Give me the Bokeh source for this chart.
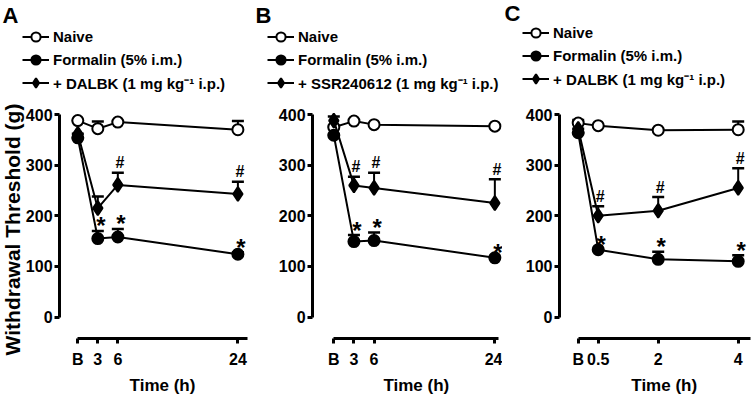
import math
from bokeh.plotting import figure
from bokeh.layouts import row
from bokeh.models import (ColumnDataSource, Whisker, TeeHead, Legend, LegendItem,
                          Label, FixedTicker)
from bokeh.core.properties import value
from bokeh.embed import file_html
from bokeh.resources import INLINE

# ---------------- data ----------------
# Panel A
a_time = [0, 3, 6, 24]
a_ticklabels = ["B", "3", "6", "24"]
a_naive = [388, 372, 385, 370]
a_naive_sem = [0, 14, 0, 17]
a_formalin = [354, 155, 158, 124]
a_formalin_sem = [0, 15, 16, 4]
a_drug = [362, 215, 261, 243]
a_drug_sem = [0, 23, 24, 24]
a_drug_label = "+ DALBK (1 mg kg\u207b\u00b9 i.p.)"
a_star_times = [3, 6, 24]
a_hash_times = [6, 24]

# Panel B
b_time = [0, 3, 6, 24]
b_ticklabels = ["B", "3", "6", "24"]
b_naive = [375, 387, 380, 377]
b_naive_sem = [0, 0, 0, 0]
b_formalin = [359, 149, 151, 117]
b_formalin_sem = [0, 13, 16, 0]
b_drug = [388, 260, 255, 225]
b_drug_sem = [8, 17, 30, 47]
b_drug_label = "+ SSR240612 (1 mg kg\u207b\u00b9 i.p.)"
b_star_times = [3, 6, 24]
b_hash_times = [3, 6, 24]

# Panel C
c_time = [0, 0.5, 2, 4]
c_ticklabels = ["B", "0.5", "2", "4"]
c_naive = [383, 378, 369, 370]
c_naive_sem = [6, 0, 0, 16]
c_formalin = [364, 133, 114, 110]
c_formalin_sem = [0, 0, 15, 12]
c_drug = [372, 200, 210, 255]
c_drug_sem = [0, 19, 27, 39]
c_drug_label = "+ DALBK (1 mg kg\u207b\u00b9 i.p.)"
c_star_times = [0.5, 2, 4]
c_hash_times = [0.5, 2, 4]

y_ticks = [0, 100, 200, 300, 400]
naive_label = "Naive"
formalin_label = "Formalin (5% i.m.)"
x_title = "Time (h)"
y_title = "Withdrawal Threshold (g)"

FONT = "Liberation Sans"
H = 404
Y_RANGE = (-172.8, 625.2)
X_AXIS_AT = -42.5


def make_panel(letter, time, ticklabels, naive, naive_sem, form, form_sem,
               drug, drug_sem, drug_label, star_times, hash_times,
               width, xr, yaxis_at, axis_end, leg_xy, letter_xy, with_ytitle=False):
    p = figure(width=width, height=H, x_range=xr, y_range=Y_RANGE,
               output_backend="svg", toolbar_location=None,
               min_border_left=0, min_border_right=0, min_border_top=0,
               min_border_bottom=0)
    p.outline_line_color = None
    p.grid.visible = False
    p.background_fill_color = "white"

    for ax in (p.xaxis[0], p.yaxis[0]):
        ax.axis_line_width = 3
        ax.axis_line_color = "black"
        ax.major_tick_line_width = 3
        ax.major_tick_line_color = "black"
        ax.major_tick_out = 5
        ax.major_tick_in = 0
        ax.minor_tick_line_color = None
        ax.major_label_text_font = FONT
        ax.major_label_text_font_size = "16px"
        ax.major_label_text_font_style = "bold"
        ax.major_label_text_color = "black"

    yax = p.yaxis[0]
    yax.ticker = FixedTicker(ticks=y_ticks)
    yax.bounds = (0, 400)
    yax.major_label_standoff = 2
    yax.fixed_location = yaxis_at

    xax = p.xaxis[0]
    xax.ticker = FixedTicker(ticks=time)
    xax.major_label_overrides = {t: l for t, l in zip(time, ticklabels)}
    xax.bounds = (0, axis_end)
    xax.major_label_standoff = 7
    xax.fixed_location = X_AXIS_AT

    series = [
        (naive, naive_sem, "circle", 11, "white", naive_label),
        (form, form_sem, "circle", 11, "black", formalin_label),
        (drug, drug_sem, "diamond", 14, "black", drug_label),
    ]
    items = []
    for vals, sem, marker, size, fill, label in series:
        src = ColumnDataSource(dict(x=time, y=vals,
                                    upper=[v + s for v, s in zip(vals, sem)]))
        w = Whisker(source=src, base="x", lower="y", upper="upper",
                    line_width=2, line_color="black",
                    upper_head=TeeHead(size=12, line_width=2.5, line_color="black"),
                    lower_head=None, level="underlay")
        p.add_layout(w)
        ln = p.line("x", "y", source=src, line_width=2, line_color="black")
        sc = p.scatter("x", "y", source=src, marker=marker, size=size,
                       fill_color=fill, line_color="black", line_width=2)
        items.append(LegendItem(label=label, renderers=[ln, sc]))

    # significance marks
    f_top = {t: v + s for t, v, s in zip(time, form, form_sem)}
    d_top = {t: v + s for t, v, s in zip(time, drug, drug_sem)}
    p.text(x=star_times, y=[f_top[t] for t in star_times],
           text=["*"] * len(star_times), text_font=value(FONT),
           text_font_size="24px", text_font_style="bold", text_align="center",
           text_baseline="alphabetic", x_offset=3, y_offset=-5,
           text_color="black")
    p.text(x=hash_times, y=[d_top[t] for t in hash_times],
           text=["#"] * len(hash_times), text_font=value(FONT),
           text_font_size="16px", text_font_style="bold", text_align="center",
           text_baseline="alphabetic", x_offset=2, y_offset=-10,
           text_color="black")

    legend = Legend(items=items, location=leg_xy, padding=0, margin=0,
                    spacing=0, glyph_width=27, glyph_height=23,
                    label_height=23, label_standoff=4,
                    label_text_font=FONT, label_text_font_size="15px",
                    label_text_font_style="bold", label_text_color="black",
                    border_line_alpha=0, background_fill_alpha=0)
    p.add_layout(legend)

    p.add_layout(Label(x=letter_xy[0], y=letter_xy[1], x_units="screen", y_units="screen",
                       text=letter, text_font=FONT, text_font_size="22px",
                       text_font_style="bold", text_baseline="top",
                       text_align="left", text_color="black"))
    p.add_layout(Label(x=axis_end / 2, y=19, x_units="data", y_units="screen",
                       text=x_title, text_font=FONT, text_font_size="17px",
                       text_font_style="bold", text_baseline="middle",
                       text_align="center", text_color="black"))
    if with_ytitle:
        p.add_layout(Label(x=12, y=175, x_units="screen", y_units="screen",
                           text=y_title, text_font=FONT, text_font_size="21px",
                           text_font_style="bold", text_baseline="middle",
                           text_align="center", angle=math.pi / 2,
                           text_color="black"))
    return p


pa = make_panel("A", a_time, a_ticklabels, a_naive, a_naive_sem, a_formalin,
                a_formalin_sem, a_drug, a_drug_sem, a_drug_label,
                a_star_times, a_hash_times,
                width=255, xr=(-11.59, 26.64), yaxis_at=-2.74, axis_end=25.4,
                leg_xy=(22, 310), letter_xy=(2, 402), with_ytitle=True)
pb = make_panel("B", b_time, b_ticklabels, b_naive, b_naive_sem, b_formalin,
                b_formalin_sem, b_drug, b_drug_sem, b_drug_label,
                b_star_times, b_hash_times,
                width=247, xr=(-11.67, 25.14), yaxis_at=-3.17, axis_end=24.6,
                leg_xy=(12, 310), letter_xy=(0, 402))
pc = make_panel("C", c_time, c_ticklabels, c_naive, c_naive_sem, c_formalin,
                c_formalin_sem, c_drug, c_drug_sem, c_drug_label,
                c_star_times, c_hash_times,
                width=251, xr=(-1.8925, 4.3825), yaxis_at=-0.4675, axis_end=4.3,
                leg_xy=(20, 314), letter_xy=(2, 404))

layout = row(pa, pb, pc, spacing=0)
open("out.html", "w").write(file_html(layout, INLINE))
